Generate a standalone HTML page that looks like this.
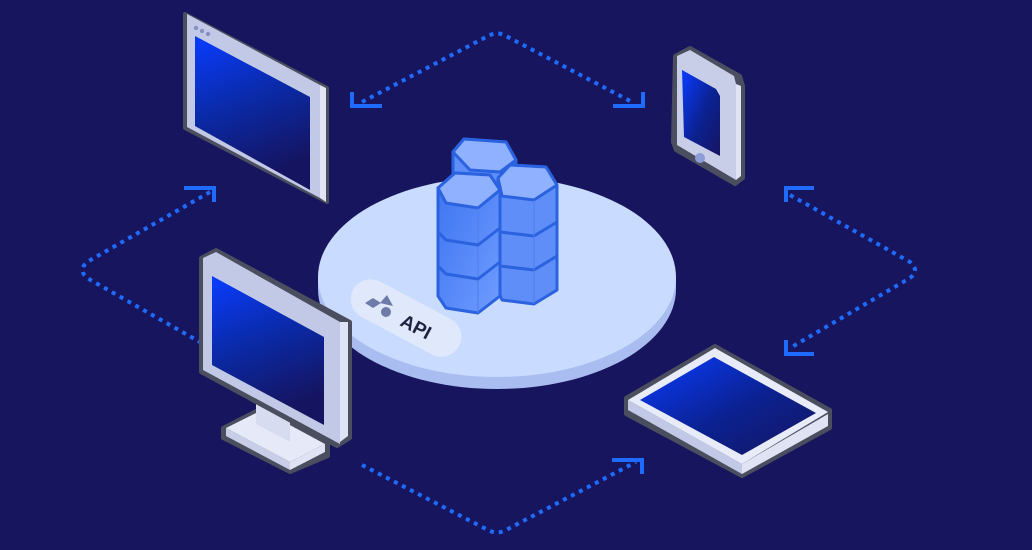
<!DOCTYPE html>
<html><head><meta charset="utf-8"><style>
html,body{margin:0;padding:0;background:#17155e;}
svg{display:block}
</style></head><body>
<svg width="1032" height="550" viewBox="0 0 1032 550" xmlns="http://www.w3.org/2000/svg">
<defs>
<linearGradient id="scr" x1="0" y1="0" x2="0.3" y2="1">
<stop offset="0" stop-color="#0a3cff"/><stop offset="0.5" stop-color="#0a2aa8"/><stop offset="1" stop-color="#151460"/>
</linearGradient>
<linearGradient id="scr2" x1="0" y1="0" x2="1" y2="1">
<stop offset="0" stop-color="#0a3cff"/><stop offset="0.55" stop-color="#0b2190"/><stop offset="1" stop-color="#171560"/>
</linearGradient>
<linearGradient id="hexs" x1="0" y1="0" x2="1" y2="1">
<stop offset="0" stop-color="#3c73f0"/><stop offset="1" stop-color="#6f9cff"/>
</linearGradient>
</defs>
<rect width="1032" height="550" fill="#17155e"/>

<g fill="none" stroke="#1f6bff" stroke-width="4" stroke-dasharray="4 5">
<path d="M362 102 L488 36 Q497 31 506 36 L632 102"/>
<path d="M210 192 L87 262 Q78 270 87 278 L200 342"/>
<path d="M790 195 L910 262 Q920 270 910 278 L790 348"/>
<path d="M362 465 L488 530 Q497 535 506 530 L636 462"/>
</g>
<g fill="none" stroke="#1f6bff" stroke-width="4">
<path d="M352 92 V106 H382"/>
<path d="M643 92 V106 H613"/>
<path d="M184 188 H214 V202"/>
<path d="M814 188 H786 V202"/>
<path d="M786 340 V354 H814"/>
<path d="M612 460 H642 V474"/>
</g>

<ellipse cx="497" cy="289" rx="179" ry="100" fill="#a9bdf0"/>
<rect x="318" y="277" width="358" height="12" fill="#a9bdf0"/>
<ellipse cx="497" cy="277" rx="179" ry="100" fill="#c9dbff"/>
<g transform="translate(406,318) rotate(28)">
<rect x="-60" y="-20" width="120" height="40" rx="20" fill="#e0e8fb"/>
</g>
<g fill="#6e7aa8">
<polygon points="365,303 373,298 381,303 373,308"/>
<polygon points="380,303 387,295 393,306"/>
<circle cx="386" cy="312" r="5"/>
</g>
<text x="399" y="325" transform="rotate(28 399 325)" font-family="Liberation Sans, sans-serif" font-weight="bold" font-size="19" fill="#1f2340">API</text>

<g stroke="#2b62e0" stroke-width="3" stroke-linejoin="round">
<!-- back column -->
<polygon points="453,152 464,139 506,142 516,160 516,200 453,200" fill="#5f8ef8"/>
<polygon points="453,152 464,139 506,142 516,160 500,172 470,170" fill="#8fb1ff"/>
<!-- right column -->
<polygon points="498,178 510,165 546,167 557,185 557,290 534,304 502,300 498,290" fill="#5f8ef8"/>
<polygon points="498,178 510,165 546,167 557,185 534,200 502,196" fill="#8fb1ff"/>
<path d="M500 232 L534 236 L557 222 M500 266 L534 270 L557 256" fill="none"/>
<line x1="534" y1="200" x2="534" y2="304" stroke-width="1" stroke="#4d7ef0"/>
<!-- left column -->
<polygon points="438,188 455,173 490,175 500,190 500,296 478,313 446,308 438,296" fill="url(#hexs)"/>
<polygon points="438,188 455,173 490,175 500,190 478,208 446,203" fill="#8fb1ff"/>
<line x1="478" y1="208" x2="478" y2="313" stroke-width="1" stroke="#4d7ef0"/>
<path d="M438 232 L446 240 L478 245 L500 228 M438 266 L446 274 L478 279 L500 262" fill="none"/>
</g>

<polygon points="185,14 327,88 327,202 185,128" fill="#4a4e5e" stroke="#4a4e5e" stroke-width="4" stroke-linejoin="round"/>
<polygon points="187,14 320,85 320,198 187,127" fill="#c2c9e6"/>
<polygon points="320,85 326,88 326,202 320,198" fill="#e0e5f6"/>
<polygon points="195,36 310,97 310,190 195,126" fill="url(#scr)"/>
<circle cx="196" cy="28" r="2.2" fill="#8690c2"/><circle cx="202" cy="31" r="2.2" fill="#8690c2"/><circle cx="208" cy="34" r="2.2" fill="#8690c2"/>

<polygon points="675,56 690,48 740,76 743,86 743,178 735,184 676,150 673,142" fill="#4a4e5e" stroke="#4a4e5e" stroke-width="4" stroke-linejoin="round"/>
<polygon points="677,56 690,50 734,76 736,84 736,180 677,145" fill="#c8cee8"/>
<polygon points="736,84 741,86 741,176 736,180" fill="#dfe3f4"/>
<polygon points="682,70 716,89 720,96 720,156 684,137" fill="url(#scr2)"/>
<circle cx="700" cy="158" r="5" fill="#8b9cd6"/>

<polygon points="223,428 262,408 328,444 328,456 290,472 223,438" fill="#4a4e5e" stroke="#4a4e5e" stroke-width="4" stroke-linejoin="round"/>
<polygon points="226,428 262,410 325,444 290,462" fill="#e6eaf8"/>
<polygon points="226,428 290,462 290,470 226,436" fill="#c8cee8"/>
<polygon points="290,462 325,444 325,452 290,470" fill="#dfe3f4"/>
<polygon points="256,400 290,418 290,442 256,424" fill="#d7dcf0"/>
<polygon points="201,258 216,250 350,322 350,438 337,446 201,372" fill="#4a4e5e" stroke="#4a4e5e" stroke-width="4" stroke-linejoin="round"/>
<polygon points="203,258 216,252 340,322 340,444 203,370" fill="#c2c9e6"/>
<polygon points="340,322 348,322 348,436 340,442" fill="#dfe3f4"/>
<polygon points="212,276 324,337 324,425 212,365" fill="url(#scr)"/>

<polygon points="626,398 715,346 830,410 830,428 742,476 626,414" fill="#4a4e5e" stroke="#4a4e5e" stroke-width="4" stroke-linejoin="round"/>
<polygon points="628,400 742,464 742,474 628,410" fill="#c2c9e6"/>
<polygon points="742,464 828,414 828,426 742,474" fill="#dfe3f4"/>
<polygon points="628,400 715,348 828,412 742,464" fill="#e8ecfa"/>
<polygon points="640,400 714,357 816,413 742,455" fill="url(#scr2)"/>
</svg>
</body></html>
